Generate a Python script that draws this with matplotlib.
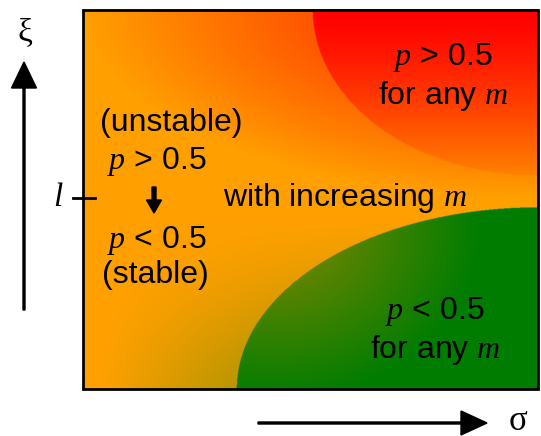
"""
Phase diagram sketch: stability regions in the sigma-xi plane
"""
import matplotlib
matplotlib.use('Agg')
import matplotlib.pyplot as plt
from matplotlib.patches import Rectangle, FancyArrow
import numpy as np

plt.rcParams['font.family'] = ['Liberation Sans', 'DejaVu Sans']
plt.rcParams['mathtext.fontset'] = 'custom'
plt.rcParams['mathtext.it'] = 'Liberation Serif:italic'
plt.rcParams['mathtext.rm'] = 'Liberation Sans'

# region shapes (axes fraction): ellipses anchored at corners
red_corner = (1.0, 1.0)
red_axes = (0.495, 0.438)
green_corner = (1.0, 0.0)
green_axes = (0.662, 0.478)

# colours
orange = np.array([255, 160, 0]) / 255
red = np.array([255, 0, 0]) / 255
green = np.array([0, 125, 0]) / 255
olive = np.array([135, 135, 0]) / 255

# labels
region_labels = ['$p$ > 0.5\nfor any $m$', '$p$ < 0.5\nfor any $m$']
middle_label = 'with increasing $m$'
left_labels = ['(unstable)', '$p$ > 0.5', '$p$ < 0.5', '(stable)']

# box in figure pixels
box_left, box_right, box_top, box_bottom = 83, 538, 10, 389


def ellipse_r(u, v, corner, axes):
    return np.sqrt(((u - corner[0]) / axes[0]) ** 2 + ((v - corner[1]) / axes[1]) ** 2)


def lerp(a, b, t):
    return a[None, None, :] * (1 - t[..., None]) + b[None, None, :] * t[..., None]


n = 900
u, v = np.meshgrid(np.linspace(0, 1, n), np.linspace(1, 0, n))
r_red = ellipse_r(u, v, red_corner, red_axes)
r_green = ellipse_r(u, v, green_corner, green_axes)

# background: orange, redder towards the top right
r_halo = ellipse_r(u, v, red_corner, (1.0, 0.5))
g_out = 160 - 150 * np.clip(1 - r_halo, 0, 1)
img = np.zeros((n, n, 3))
img[..., 0] = 1.0
img[..., 1] = g_out / 255

# olive tint next to the green region, near the bottom
t_g = 0.28 * np.clip(1 - (r_green - 1) / 0.45, 0, 1) * np.clip(1 - v / 0.45, 0, 1)
img = img * (1 - t_g[..., None]) + green[None, None, :] * t_g[..., None]

# red region: red at the top, orange-red at its lower edge
inside_r = r_red < 1
g_in = 130 * np.clip((1 - v) / red_axes[1], 0, 1) ** 1.3
img_r = np.zeros_like(img)
img_r[..., 0] = 1.0
img_r[..., 1] = g_in / 255
img[inside_r] = img_r[inside_r]

# green region, olive highlight towards the upper left
inside_g = r_green < 1
d_h = np.sqrt((u - 0.42) ** 2 + (v - 0.42) ** 2)
t_h = np.clip(1 - d_h / 0.45, 0, 1)
img_g = lerp(green, olive, t_h)
img[inside_g] = img_g[inside_g]

fig = plt.figure(figsize=(5.41, 4.36), dpi=100)
ax = fig.add_axes([0, 0, 1, 1])
ax.set_xlim(0, 541)
ax.set_ylim(436, 0)
ax.axis('off')

ax.imshow(img, extent=[box_left, box_right, box_bottom, box_top],
          interpolation='bilinear', aspect='auto', zorder=1)
ax.add_patch(Rectangle((box_left, box_top), box_right - box_left, box_bottom - box_top,
                       fill=False, edgecolor='black', linewidth=2, zorder=3))

# axis arrows
ax.add_patch(FancyArrow(24, 310, 0, -248, width=2, head_width=25, head_length=26,
                        length_includes_head=True, color='black', zorder=4))
ax.add_patch(FancyArrow(258, 423, 229, 0, width=2, head_width=24, head_length=26,
                        length_includes_head=True, color='black', zorder=4))
ax.text(25, 33, 'ξ', family='Liberation Serif', fontsize=24, ha='center', va='center')
ax.text(518, 421, 'σ', family='Liberation Serif', fontsize=25, ha='center', va='center')

# tick l
ax.plot([73, 95], [198, 198], color='black', linewidth=2, zorder=4)
ax.text(58, 198, 'l', family='Liberation Serif', style='italic', fontsize=24,
        ha='center', va='center')

# left column
fs = 23
ax.text(171, 123, left_labels[0], fontsize=fs, ha='center', va='center', zorder=5)
ax.text(157, 161, left_labels[1], fontsize=fs, ha='center', va='center', zorder=5)
ax.add_patch(FancyArrow(154, 187, 0, 26, width=4, head_width=15, head_length=13,
                        length_includes_head=True, color='black', zorder=5))
ax.text(157, 240, left_labels[2], fontsize=fs, ha='center', va='center', zorder=5)
ax.text(155, 275, left_labels[3], fontsize=fs, ha='center', va='center', zorder=5)

ax.text(223, 198, middle_label, fontsize=fs, ha='left', va='center', zorder=5)

ax.text(443, 77, region_labels[0], fontsize=fs, ha='center', va='center',
        linespacing=1.2, zorder=5)
ax.text(435, 331, region_labels[1], fontsize=fs, ha='center', va='center',
        linespacing=1.2, zorder=5)

fig.savefig('out.png', dpi=100)
